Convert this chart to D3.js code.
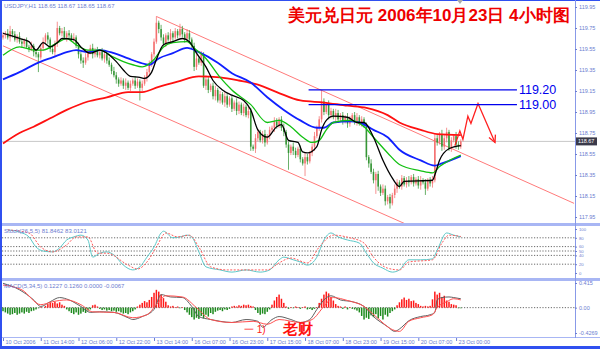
<!DOCTYPE html>
<html><head><meta charset="utf-8">
<script src="https://cdn.jsdelivr.net/npm/d3@7"></script>
<style>body{margin:0;background:#fff}svg{display:block}text{font-family:'Liberation Sans',Arial,sans-serif}</style>
</head><body><svg id="chart"></svg>
<script>
// USDJPY H1, 10 Oct 22:00 .. 23 Oct 02:00 (one value per bar)
const firstOpen = 119.66;
const closes = [
  119.68,119.70,119.66,119.72,119.69,119.64,119.67,119.62,119.60,119.63,
  119.57,119.55,119.58,119.52,119.50,119.47,119.56,119.62,119.68,119.64,
  119.55,119.52,119.60,119.75,119.70,119.72,119.66,119.70,119.68,119.64,
  119.66,119.58,119.50,119.44,119.42,119.47,119.52,119.56,119.50,119.54,
  119.49,119.52,119.46,119.50,119.44,119.40,119.34,119.30,119.26,119.22,
  119.25,119.20,119.23,119.18,119.22,119.25,119.20,119.24,119.18,119.22,
  119.28,119.33,119.40,119.50,119.62,119.80,119.74,119.66,119.60,119.68,
  119.64,119.70,119.66,119.72,119.68,119.74,119.69,119.65,119.70,119.64,
  119.58,119.38,119.46,119.42,119.50,119.20,119.26,119.16,119.20,119.10,
  119.16,119.06,119.12,119.04,119.10,119.02,119.08,118.98,119.04,118.96,
  119.02,118.94,119.00,118.92,118.96,118.62,118.60,118.70,118.76,118.68,
  118.74,118.66,118.72,118.78,118.80,118.86,118.82,118.88,118.80,118.76,
  118.64,118.56,118.62,118.58,118.54,118.60,118.50,118.46,118.52,118.48,
  118.56,118.62,118.72,118.80,118.88,119.05,118.95,119.02,118.92,118.96,
  118.90,118.94,118.88,118.92,118.86,118.90,118.84,118.88,118.92,118.86,
  118.90,118.84,118.88,118.82,118.52,118.46,118.38,118.30,118.36,118.24,
  118.18,118.22,118.10,118.14,118.08,118.16,118.22,118.28,118.24,118.32,
  118.26,118.30,118.28,118.33,118.27,118.31,118.25,118.30,118.28,118.22,
  118.30,118.27,118.30,118.70,118.66,118.74,118.62,118.70,118.76,118.60,
  118.68,118.72,118.64,118.62,118.67
];
// wick above / below the body, in pips
const hiPips = [
  3,2,4,5,2,3,2,4,3,2, 3,2,4,2,3,2,3,4,2,3, 2,4,3,6,2,3,4,2,3,2, 4,2,3,2,3,4,2,3,4,2,
  3,2,4,3,2,3,2,4,3,2, 3,2,4,2,3,2,4,3,2,3, 2,3,4,2,3,6,2,4,3,2, 3,4,2,3,2,5,3,2,4,3,
  2,3,4,2,3,2,4,3,2,3, 4,2,3,2,4,3,2,3,2,4, 3,2,3,2,4,3,2,4,3,2, 3,4,2,3,2,4,3,2,3,4,
  2,3,2,4,3,2,3,2,4,3, 2,3,4,2,3,11,3,2,4,3, 2,4,3,2,3,2,4,3,2,3, 4,2,3,2,3,2,4,3,2,3,
  2,4,3,2,3,2,4,3,2,3, 2,3,4,2,3,2,3,4,2,3, 2,3,4,5,3,2,4,3,4,2, 3,2,4,3,2
];
const loPips = [
  2,3,2,4,3,2,3,2,4,3, 2,3,2,4,3,14,2,3,2,4, 3,2,4,3,2,3,2,4,3,2, 3,2,4,3,5,2,3,2,4,3,
  2,3,2,4,3,2,3,2,4,3, 2,3,4,2,3,2,3,2,12,3, 2,4,3,2,3,2,4,3,2,3, 2,3,4,2,3,2,3,4,2,3,
  2,4,3,2,3,2,4,3,2,3, 4,2,3,2,4,3,2,3,2,4, 3,2,3,2,3,4,2,4,3,2, 3,4,2,3,2,4,3,2,3,4,
  3,16,2,4,3,2,3,2,12,3, 2,3,4,2,3,3,3,2,4,3, 2,4,3,2,3,2,4,3,2,3, 4,2,3,2,3,4,2,3,13,4,
  3,2,4,3,5,2,3,4,2,3, 2,3,4,2,3,2,3,4,2,6, 2,3,4,2,3,2,4,3,4,2, 3,2,4,3,2
];

// moving averages: [bar, price]
const maBlack = [[0,119.70],[3,119.68],[7,119.65],[11,119.62],[14,119.54],[17,119.61],[20,119.57],[23,119.61],[25,119.65],[30,119.64],[33,119.57],[37,119.51],[41,119.54],[44,119.51],[48,119.43],[51,119.35],[54,119.29],[58,119.28],[60,119.27],[63,119.33],[65,119.45],[68,119.59],[72,119.62],[76,119.65],[79,119.62],[82,119.51],[86,119.38],[89,119.25],[93,119.16],[97,119.11],[102,119.06],[105,118.97],[108,118.78],[112,118.71],[116,118.81],[118,118.83],[121,118.68],[125,118.66],[127,118.57],[129,118.56],[133,118.62],[135,118.78],[137,118.87],[140,118.91],[146,118.90],[150,118.85],[153,118.85],[157,118.71],[161,118.49],[165,118.32],[168,118.24],[170,118.29],[182,118.30],[183,118.35],[185,118.49],[189,118.60],[194,118.63]];
const maGreen = [[0,119.49],[7,119.57],[13,119.54],[17,119.54],[23,119.61],[27,119.65],[31,119.59],[36,119.54],[41,119.54],[47,119.47],[51,119.43],[55,119.40],[59,119.38],[64,119.45],[68,119.57],[72,119.61],[78,119.62],[81,119.56],[86,119.46],[92,119.28],[97,119.16],[105,119.02],[112,118.85],[117,118.87],[122,118.81],[127,118.71],[131,118.66],[134,118.68],[137,118.78],[140,118.85],[147,118.87],[153,118.81],[157,118.71],[163,118.56],[168,118.45],[177,118.39],[182,118.37],[185,118.43],[194,118.54]];
const maBlue = [[0,119.26],[7,119.33],[16,119.43],[21,119.47],[27,119.52],[31,119.54],[36,119.52],[41,119.54],[47,119.51],[53,119.46],[58,119.42],[62,119.40],[66,119.46],[72,119.51],[78,119.56],[83,119.52],[91,119.42],[97,119.32],[105,119.23],[112,119.09],[119,118.97],[126,118.87],[133,118.80],[136,118.80],[140,118.85],[147,118.86],[151,118.85],[157,118.78],[163,118.71],[168,118.59],[177,118.49],[183,118.44],[186,118.46],[194,118.53]];
const maRed = [[0,118.65],[7,118.75],[13,118.81],[20,118.89],[27,118.97],[36,119.05],[44,119.09],[53,119.14],[59,119.14],[66,119.19],[74,119.24],[83,119.29],[92,119.28],[100,119.25],[108,119.21],[116,119.14],[126,119.06],[136,119.04],[146,119.01],[154,118.99],[163,118.92],[168,118.85],[177,118.78],[184,118.74],[194,118.73]];

// drawn objects: channel, levels, forecast zigzag
const upperChannel = [[65,119.86],[242,118.08]];
const lowerChannel = [[0,119.58],[175,117.84]];
const levels = [119.16, 119.02];
const levelLabels = ["119.20", "119.00"];
const levelSpan = [129.5, 217.8];
const zigzag = [[191.5,118.63],[193.6,118.77],[194.9,118.69],[197,118.91],[198.3,118.84],[201.3,119.03],[208.5,118.66]];

// Stoch(26,5,5): [bar, value]
const stochMain = [[2,98],[7,93],[11,82],[14,59],[17,50],[21,48],[24,57],[27,75],[30,82],[33,86],[36,75],[38,36],[41,45],[44,48],[47,41],[51,18],[55,7],[58,14],[61,36],[64,59],[67,91],[68,95],[72,80],[75,82],[78,86],[80,82],[83,48],[86,14],[92,7],[97,2],[103,7],[109,2],[113,7],[117,30],[119,36],[123,30],[126,25],[129,18],[133,36],[136,75],[139,91],[142,82],[146,75],[151,68],[154,45],[157,23],[161,11],[165,2],[168,7],[172,30],[177,30],[182,32],[184,52],[188,91],[191,86],[194,82]];
const stochSignal = [[2,98],[11,91],[16,59],[21,48],[27,64],[31,82],[36,82],[40,45],[44,45],[53,18],[57,9],[61,25],[65,59],[69,91],[74,82],[79,86],[83,59],[88,14],[95,7],[112,7],[117,23],[122,34],[129,23],[134,59],[140,86],[147,80],[153,68],[157,36],[163,11],[168,7],[172,25],[182,30],[186,68],[189,86],[194,83]];

// MACD(5,34,5)
const macdMain = [[0,0.41],[7,0.30],[13,0.13],[16,0.02],[20,0.10],[24,0.17],[28,0.13],[33,0.02],[37,-0.08],[41,-0.07],[47,-0.08],[53,-0.17],[55,-0.20],[59,-0.15],[64,-0.03],[67,0.22],[71,0.18],[76,0.17],[80,0.02],[83,-0.15],[88,-0.20],[92,-0.23],[97,-0.25],[103,-0.20],[108,-0.23],[110,-0.33],[114,-0.20],[117,-0.15],[122,-0.20],[126,-0.25],[130,-0.20],[133,-0.03],[136,0.13],[139,0.20],[143,0.13],[148,0.10],[153,0.02],[157,-0.15],[163,-0.32],[166,-0.40],[168,-0.36],[172,-0.22],[177,-0.15],[181,-0.12],[183,-0.08],[184,0.13],[186,0.17],[189,0.18],[191,0.17],[194,0.15]];
const macdSignal = [[0,0.38],[8,0.30],[16,0.05],[21,0.10],[27,0.13],[33,0.05],[38,-0.07],[47,-0.08],[55,-0.17],[61,-0.12],[65,0.05],[69,0.20],[76,0.18],[82,0.00],[88,-0.20],[97,-0.25],[106,-0.23],[112,-0.28],[117,-0.20],[126,-0.25],[131,-0.20],[136,0.02],[140,0.17],[146,0.12],[153,0.02],[158,-0.15],[165,-0.37],[168,-0.40],[172,-0.23],[177,-0.17],[182,-0.12],[184,0.00],[188,0.10],[191,0.15],[194,0.13]];
const macdHist = [
  -0.06,-0.08,-0.10,-0.12,-0.11,-0.09,-0.12,-0.10,-0.08,-0.10,-0.07,-0.09,-0.06,-0.05,-0.03,
  -0.01,0.01,0.00,
  0.03,0.06,0.09,0.08,0.10,0.07,0.09,0.05,0.03,
  -0.03,-0.06,-0.09,-0.11,-0.08,-0.12,-0.10,-0.07,-0.09,-0.05,-0.03,
  0.04,0.05,0.02,
  -0.02,-0.04,-0.03,-0.05,-0.04,-0.06,-0.05,-0.07,-0.06,-0.08,
  -0.10,-0.09,-0.11,-0.08,-0.06,-0.03,
  0.02,0.05,0.08,0.11,0.09,0.13,
  0.18,0.25,0.30,0.27,0.22,0.16,0.10,
  0.04,0.02,0.03,0.01,0.02,-0.01,0.01,
  -0.04,-0.08,-0.12,-0.16,-0.20,-0.17,-0.19,-0.14,-0.18,-0.12,-0.15,-0.09,-0.11,-0.07,
  -0.05,-0.04,-0.06,-0.03,-0.04,-0.02,
  0.02,0.03,0.02,0.04,0.03,0.05,0.04,0.05,0.03,0.02,
  -0.04,-0.09,-0.12,-0.10,-0.11,-0.07,-0.03,
  0.05,0.12,0.18,0.22,0.15,0.08,
  0.02,-0.02,0.01,-0.01,0.02,0.01,-0.02,0.01,0.02,
  -0.03,-0.02,-0.04,-0.02,0.01,
  0.08,0.15,0.22,0.27,0.24,0.18,0.12,
  0.06,0.03,0.02,-0.02,0.02,-0.03,0.01,-0.02,-0.03,-0.05,
  -0.08,-0.14,-0.20,-0.17,-0.19,-0.13,-0.16,-0.11,-0.18,-0.14,-0.20,-0.12,-0.15,-0.09,-0.06,-0.03,
  0.04,0.09,0.14,0.17,0.13,0.15,0.11,0.12,0.08,0.06,
  0.03,0.02,0.03,0.02,0.03,
  0.14,0.27,0.22,0.25,0.18,0.20,
  0.12,0.10,0.06,0.05,0.04,
  -0.01,-0.01
];

const priceTicks = [119.95,119.75,119.55,119.35,119.15,118.95,118.75,118.55,118.35,118.15,117.95];
const stochTicks = [100,80,60,50,40,20,0];
const stochLevels = [80,60,50,40,20];
const macdTicks = [0.415,0,-0.4269];
const macdTickText = ["0.415","0.00","-0.4269"];
const dateBars = [0,16,32,48,64,80,96,112,128,144,160,176,192];
const dateLabels = ["10 Oct 2006","11 Oct 14:00","12 Oct 06:00","12 Oct 22:00","13 Oct 14:00","16 Oct 07:00","16 Oct 23:00","17 Oct 15:00","18 Oct 07:00","18 Oct 23:00","19 Oct 15:00","20 Oct 07:00","23 Oct 00:00"];

const W = 600, H = 349, R = 575;
const axisCol = "#6c7dd0", frameCol = "#a8b6f4";
const svg = d3.select("#chart").attr("width", W).attr("height", H);

const x = d3.scaleLinear().domain([0, 242.4]).range([3, R]);
const y = d3.scaleLinear().domain([117.95, 119.95]).range([217, 7]);
const yS = d3.scaleLinear().domain([0, 100]).range([273, 229]);
const yM = d3.scaleLinear().domain([-0.4269, 0.415]).range([333, 283]);

const defs = svg.append("defs");
[["cMain", 1, 222], ["cStoch", 227, 51], ["cMacd", 282, 55]].forEach(([id, top, h]) => {
    defs.append("clipPath").attr("id", id).append("rect").attr("x", 2).attr("y", top).attr("width", R - 2).attr("height", h);
});
defs.append("marker").attr("id", "arrow").attr("viewBox", "-8 -5 10 10")
    .attr("markerWidth", 10).attr("markerHeight", 10).attr("markerUnits", "userSpaceOnUse")
    .attr("orient", "auto")
    .append("path").attr("d", "M-7,-3.5L0,0L-7,3.5").attr("fill", "none").attr("stroke", "#ff2020").attr("stroke-width", 1.3);

const line = (sy) => d3.line().x(d => x(d[0])).y(d => sy(d[1])).curve(d3.curveMonotoneX);
const straight = (sy) => d3.line().x(d => x(d[0])).y(d => sy(d[1]));

// ---- main panel
const main = svg.append("g").attr("clip-path", "url(#cMain)");
const lastClose = closes[closes.length - 1];

main.append("line").attr("x1", 2).attr("x2", R).attr("y1", y(lastClose)).attr("y2", y(lastClose))
    .attr("stroke", "#c8c8c8").attr("stroke-width", 1);

[upperChannel, lowerChannel].forEach(c => {
    main.append("path").attr("d", straight(y)(c)).attr("fill", "none")
        .attr("stroke", "#ff7a7a").attr("stroke-width", 1);
});

const candles = closes.map((c, i) => {
    const o = i ? closes[i - 1] : firstOpen;
    return { i, o, c, h: Math.max(o, c) + hiPips[i] / 100, l: Math.min(o, c) - loPips[i] / 100 };
});
const cg = main.selectAll(".candle").data(candles).enter().append("g").attr("class", "candle");
const ccol = d => d.c >= d.o ? "#f46a6a" : "#2f922f";
cg.append("line")
    .attr("x1", d => x(d.i)).attr("x2", d => x(d.i))
    .attr("y1", d => y(d.h)).attr("y2", d => y(d.l))
    .attr("stroke", ccol).attr("stroke-width", 0.9).attr("opacity", 0.8);
cg.append("rect")
    .attr("x", d => x(d.i) - 0.8).attr("width", 1.6)
    .attr("y", d => y(Math.max(d.o, d.c)))
    .attr("height", d => Math.max(0.8, Math.abs(y(d.o) - y(d.c))))
    .attr("fill", ccol).attr("opacity", 0.9);

[[maRed, "#ff1010", 1.8], [maBlue, "#1020ff", 1.8], [maGreen, "#12c012", 1.3], [maBlack, "#000", 1.3]].forEach(([d, col, w]) => {
    main.append("path").attr("d", line(y)(d)).attr("fill", "none").attr("stroke", col).attr("stroke-width", w);
});

levels.forEach((p, k) => {
    svg.append("line").attr("x1", x(levelSpan[0])).attr("x2", x(levelSpan[1]))
        .attr("y1", y(p)).attr("y2", y(p)).attr("stroke", "#0000ee").attr("stroke-width", 1.3);
    svg.append("text").attr("x", x(levelSpan[1]) + 2).attr("y", y(p)).attr("dy", "0.36em")
        .attr("font-size", 12.5).attr("fill", "#0000ee").text(levelLabels[k]);
});

main.append("path").attr("d", straight(y)(zigzag)).attr("fill", "none")
    .attr("stroke", "#ff2020").attr("stroke-width", 1.3).attr("marker-end", "url(#arrow)");

// ---- stochastic panel
const st = svg.append("g").attr("clip-path", "url(#cStoch)");
st.selectAll(".lvl").data(stochLevels).enter().append("line")
    .attr("x1", 2).attr("x2", R).attr("y1", d => yS(d)).attr("y2", d => yS(d))
    .attr("stroke", "#444").attr("stroke-width", 0.8).attr("stroke-dasharray", "1.2,1.6");
st.append("path").attr("d", line(yS)(stochMain)).attr("fill", "none").attr("stroke", "#5cc8c8").attr("stroke-width", 1);
st.append("path").attr("d", line(yS)(stochSignal)).attr("fill", "none").attr("stroke", "#ff5a5a")
    .attr("stroke-width", 1).attr("stroke-dasharray", "2,1.5");

// ---- macd panel
const mg = svg.append("g").attr("clip-path", "url(#cMacd)");
mg.append("line").attr("x1", 2).attr("x2", R).attr("y1", yM(0)).attr("y2", yM(0))
    .attr("stroke", "#444").attr("stroke-width", 0.8).attr("stroke-dasharray", "1.2,1.6");
mg.selectAll(".hb").data(macdHist).enter().append("rect")
    .attr("x", (d, i) => x(i) - 0.75).attr("width", 1.5)
    .attr("y", d => Math.min(yM(d), yM(0)))
    .attr("height", d => Math.abs(yM(d) - yM(0)))
    .attr("fill", d => d >= 0 ? "#ff1818" : "#1e8a1e");
mg.append("path").attr("d", line(yM)(macdMain)).attr("fill", "none").attr("stroke", "#606060").attr("stroke-width", 1);
mg.append("path").attr("d", line(yM)(macdSignal)).attr("fill", "none").attr("stroke", "#ff5050").attr("stroke-width", 1);

// ---- frame
svg.append("rect").attr("x", 0).attr("y", 223).attr("width", W).attr("height", 3).attr("fill", frameCol);
svg.append("rect").attr("x", 0).attr("y", 278).attr("width", W).attr("height", 3).attr("fill", frameCol);
svg.append("line").attr("x1", 0).attr("x2", W).attr("y1", 337.5).attr("y2", 337.5).attr("stroke", frameCol);
svg.append("rect").attr("x", 0).attr("y", 346).attr("width", W).attr("height", 3).attr("fill", "#3050f0");
svg.append("rect").attr("x", 0).attr("y", 0).attr("width", 2).attr("height", H).attr("fill", "#3050f0");
svg.append("rect").attr("x", 0).attr("y", 0).attr("width", W).attr("height", 1).attr("fill", "#3050f0");
svg.append("line").attr("x1", R + 0.5).attr("x2", R + 0.5).attr("y1", 0).attr("y2", 338).attr("stroke", "#8899e8");
svg.append("path").attr("d", "M457,0L463,0L460,4Z").attr("fill", "#aaa");

// ---- axes
function styleAxis(g, size) {
    g.select(".domain").remove();
    g.selectAll("line").attr("stroke", axisCol);
    g.selectAll("text").attr("fill", axisCol).attr("font-size", size || 5.5)
        .attr("font-family", "'Liberation Sans',Arial,sans-serif");
}
svg.append("g").attr("transform", `translate(${R},0)`)
    .call(d3.axisRight(y).tickValues(priceTicks).tickSize(2).tickPadding(2).tickFormat(d3.format(".2f")))
    .call(styleAxis);
svg.append("g").attr("transform", `translate(${R},0)`)
    .call(d3.axisRight(yS).tickValues(stochTicks).tickSize(2).tickPadding(2))
    .call(styleAxis, 4.2);
svg.append("g").attr("transform", `translate(${R},0)`)
    .call(d3.axisRight(yM).tickValues(macdTicks).tickSize(2).tickPadding(2).tickFormat((d, k) => macdTickText[k]))
    .call(styleAxis);
const xa = svg.append("g").attr("transform", "translate(0,338)")
    .call(d3.axisBottom(x).tickValues(dateBars).tickSize(3).tickFormat((d, k) => dateLabels[k]))
    .call(styleAxis);
xa.selectAll("text").attr("text-anchor", "start").attr("dx", 2).attr("y", 2);

// current price box
svg.append("rect").attr("x", R + 1).attr("y", y(lastClose) - 4).attr("width", 21).attr("height", 8).attr("fill", "#3a3a4a");
svg.append("text").attr("x", R + 3).attr("y", y(lastClose)).attr("dy", "0.35em")
    .attr("font-size", 5.5).attr("fill", "#fff").text(lastClose.toFixed(2));

// ---- labels
const lab = (t, yy) => svg.append("text").attr("x", 4).attr("y", yy).attr("font-size", 6).attr("fill", axisCol).text(t);
lab("USDJPY,H1  118.65 118.67 118.65 118.67", 8);
lab("Stoch(26,5,5) 81.8462 83.0121", 233);
lab("MACD(5,34,5) 0.1227 0.1260 0.0000 -0.0067", 288);

svg.append("text").attr("x", 288).attr("y", 21)
    .attr("font-family", "'Liberation Serif','Noto Sans CJK SC',serif")
    .attr("font-size", 17).attr("font-weight", "bold").attr("fill", "#ee0000")
    .text("美元兑日元 2006年10月23日 4小时图");

svg.append("text").attr("x", 244).attr("y", 333).attr("font-size", 10).attr("fill", "#ff2020")
    .attr("font-family", "'Noto Sans CJK SC',sans-serif").text("一 1)");
svg.append("text").attr("x", 283).attr("y", 334).attr("font-size", 15).attr("font-weight", "bold")
    .attr("fill", "#ff1010").attr("font-family", "'Noto Sans CJK SC',sans-serif").text("老财");
</script></body></html>
